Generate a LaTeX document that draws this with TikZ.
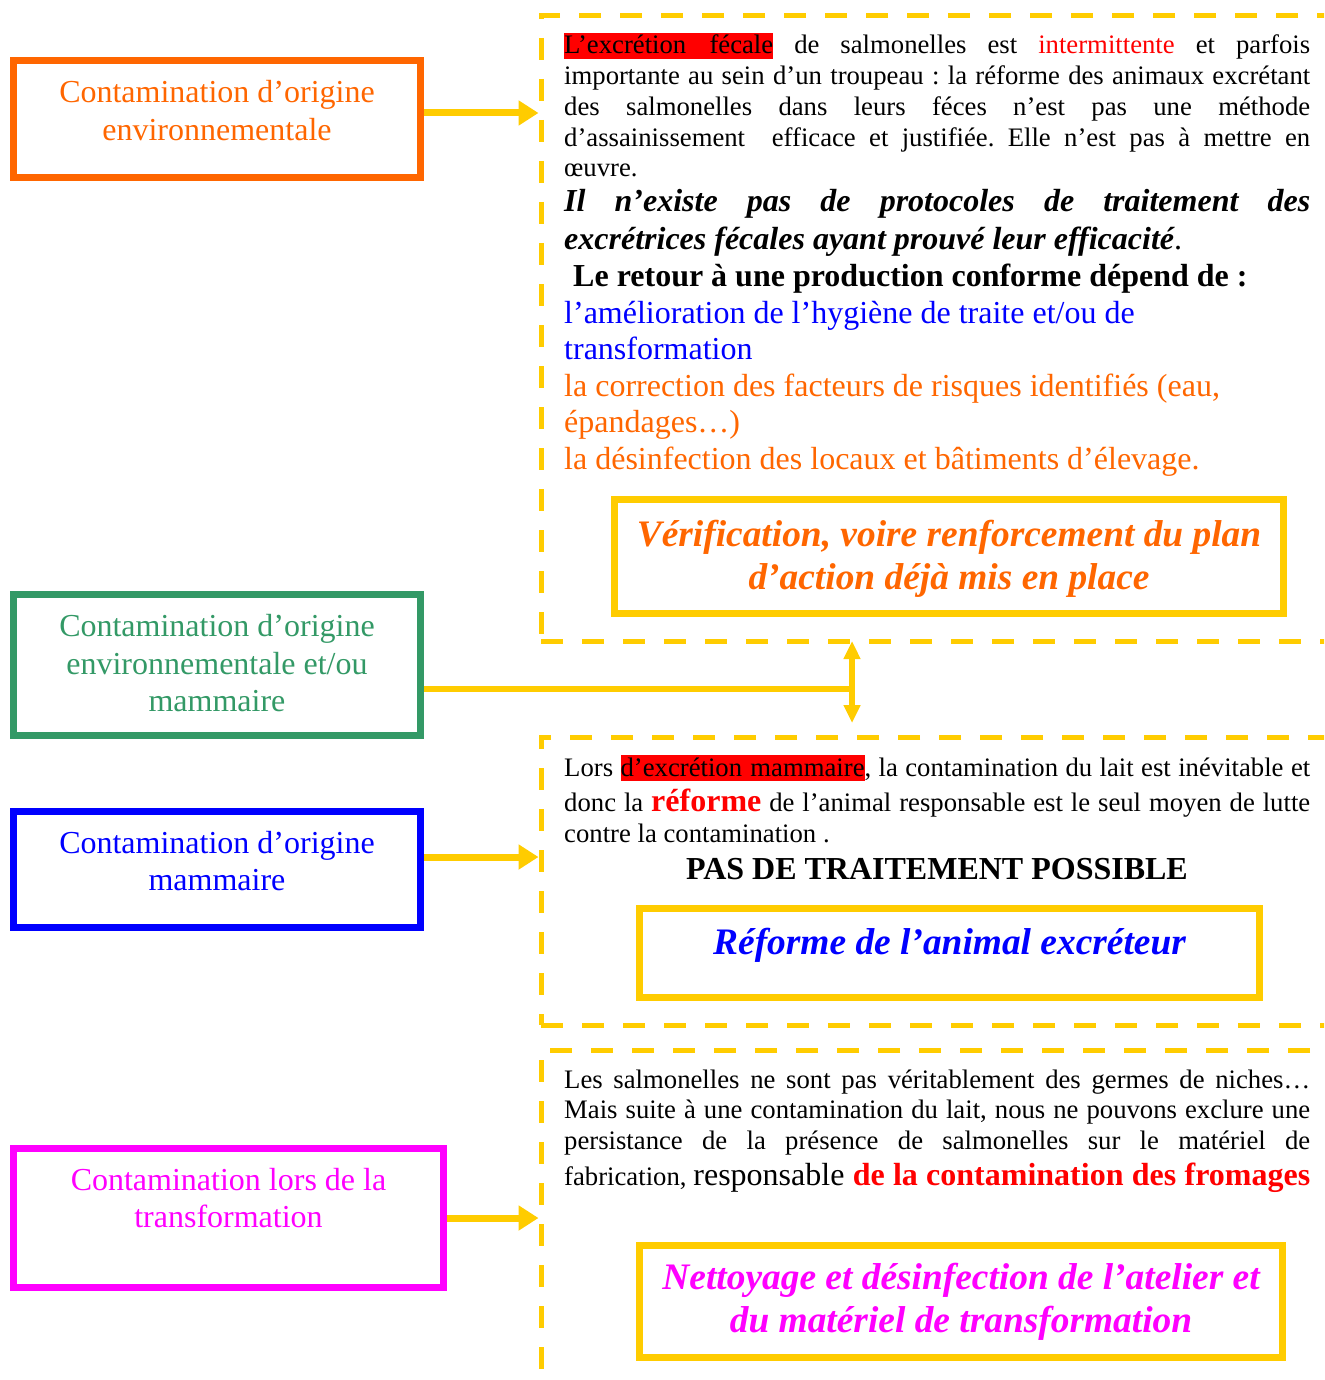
\documentclass[tikz,border=0pt]{standalone}
\usepackage{fontspec}
\setmainfont{Liberation Serif}
\usetikzlibrary{arrows.meta}
\definecolor{jaune}{HTML}{FFCC00}
\definecolor{orangevif}{HTML}{FF6600}
\definecolor{vertmer}{HTML}{339966}
\definecolor{bleu}{HTML}{0000FF}
\definecolor{magenta}{HTML}{FF00FF}
\definecolor{rouge}{HTML}{FF0000}
\frenchspacing
\newcommand{\bodysize}{\fontsize{26.7pt}{30.7pt}\selectfont}
\newcommand{\largesize}{\fontsize{32pt}{36.7pt}\selectfont}
\newcommand{\jl}[1]{\makebox[746pt][s]{#1}}
\newcommand{\surligne}[2]{{\setlength{\fboxsep}{0pt}\colorbox{rouge}{\rule[-5pt]{0pt}{26pt}\makebox[#1][s]{#2}}}}
\begin{document}
\begin{tikzpicture}[x=1pt,y=-1pt,
  origin/.style={draw=#1, line width=7pt, minimum width=407pt, inner sep=0pt},
  origintext/.style={text=#1, align=center, inner sep=0pt, font=\fontsize{32pt}{37.5pt}\selectfont},
  zone/.style={draw=jaune, line width=5pt, dash pattern=on 22pt off 19pt, inner sep=0pt, minimum width=804pt},
  action/.style={draw=jaune, line width=7pt, inner sep=0pt},
  actiontext/.style={text=#1, align=center, inner sep=0pt, font=\fontsize{37.4pt}{43pt}\selectfont\bfseries\itshape},
  body/.style={anchor=base west, inner sep=0pt, font=\bodysize},
  large/.style={anchor=base west, inner sep=0pt, font=\largesize},
  conn/.style={draw=jaune, line width=7pt, -{Triangle[length=20pt,width=24pt]}},
  link/.style={draw=jaune, line width=6pt},
  dbl/.style={draw=jaune, line width=6pt, {Triangle[length=18pt,width=16pt]}-{Triangle[length=18pt,width=16pt]}}
]
\useasboundingbox (0,0) rectangle (1324,1380);
\clip (0,0) rectangle (1324,1380);

% dashed zones on the right
\node[zone, minimum height=625pt] (zoneFec) at (943,328.5) {};
\node[zone, minimum height=288pt] (zoneMam) at (943,881) {};
\node[zone, minimum height=350pt] (zoneTrans) at (943,1225) {};

% origin boxes on the left
\node[origin=orangevif, minimum height=117pt] (boxEnv) at (217,119) {};
\node[origintext=orangevif] (txtEnv) at (217,110.5) {Contamination d’origine\\environnementale};
\node[origin=vertmer, minimum height=141pt] (boxMix) at (217,665) {};
\node[origintext=vertmer] (txtMix) at (217,663.5) {Contamination d’origine\\environnementale et/ou\\mammaire};
\node[origin=bleu, minimum height=116pt] (boxMam) at (217,869.5) {};
\node[origintext=bleu] (txtMam) at (217,861) {Contamination d’origine\\mammaire};
\node[origin=magenta, minimum width=430pt, minimum height=139pt] (boxTrans) at (228.5,1218) {};
\node[origintext=magenta] (txtTrans) at (228.5,1198) {Contamination lors de la\\transformation};

% connectors
\coordinate (aEnv) at ([yshift=6pt]boxEnv.east);
\coordinate (aMix) at ([yshift=-24pt]boxMix.east);
\coordinate (aMam) at ([yshift=12.5pt]boxMam.east);
\coordinate (aTrans) at (boxTrans.east);
\draw[conn] (aEnv) -- (aEnv -| zoneFec.west);
\draw[conn] (aMam) -- (aMam -| zoneMam.west);
\draw[conn] (aTrans) -- (aTrans -| zoneTrans.west);
\coordinate (vTop) at (852,641);
\coordinate (vBot) at (852,723);
\coordinate (vMid) at (852,689);
\draw[link] (aMix) -- (vMid);
\draw[dbl] (vTop) -- (vBot);

% faecal excretion zone
\node[body] (f1) at (564,54) {\jl{\surligne{209pt}{L’excrétion fécale} de salmonelles est \textcolor{rouge}{intermittente} et parfois}};
\node[body] (f2) at (564,85) {\jl{importante au sein d’un troupeau : la réforme des animaux excrétant}};
\node[body] (f3) at (564,116) {\jl{des salmonelles dans leurs féces n’est pas une méthode}};
\node[body] (f4) at (564,147) {\jl{d’assainissement\ \ efficace et justifiée. Elle n’est pas à mettre en}};
\node[body] (f5) at (564,177) {œuvre.};
\node[large] (f6) at (564,212) {\jl{\bfseries\itshape Il n’existe pas de protocoles de traitement des}};
\node[large] (f7) at (564,249) {{\bfseries\itshape excrétrices fécales ayant prouvé leur efficacité}.};
\node[large, font=\largesize\bfseries] (f8) at (573,286) {Le retour à une production conforme dépend de :};
\node[large, text=bleu] (f9) at (564,323) {l’amélioration de l’hygiène de traite et/ou de};
\node[large, text=bleu] (f10) at (564,359) {transformation};
\node[large, text=orangevif] (f11) at (564,396) {la correction des facteurs de risques identifiés (eau,};
\node[large, text=orangevif] (f12) at (564,432) {épandages…)};
\node[large, text=orangevif] (f13) at (564,469) {la désinfection des locaux et bâtiments d’élevage.};
\node[action, minimum width=669pt, minimum height=114pt] (actFec) at (949,556.5) {};
\node[actiontext=orangevif] (txtActFec) at (949,559) {Vérification, voire renforcement du plan\\d’action déjà mis en place};

% mammary excretion zone
\node[body] (m1) at (564,776) {\jl{Lors \surligne{244pt}{d’excrétion mammaire}, la contamination du lait est inévitable et}};
\node[body] (m2) at (564,811) {\jl{donc la {\largesize\bfseries\color{rouge}réforme} de l’animal responsable est le seul moyen de lutte}};
\node[body] (m3) at (564,842) {contre la contamination .};
\node[anchor=base, inner sep=0pt, font=\largesize\bfseries] (m4) at (937,879) {PAS DE TRAITEMENT POSSIBLE};
\node[action, minimum width=620pt, minimum height=89pt] (actMam) at (949.5,953) {};
\node[actiontext=bleu] (txtActMam) at (949.5,945) {Réforme de l’animal excréteur};

% processing zone
\node[body] (t1) at (564,1088) {\jl{Les salmonelles ne sont pas véritablement des germes de niches…}};
\node[body] (t2) at (564,1118) {\jl{Mais suite à une contamination du lait, nous ne pouvons exclure une}};
\node[body] (t3) at (564,1149) {\jl{persistance de la présence de salmonelles sur le matériel de}};
\node[body] (t4) at (564,1185) {\jl{fabrication, {\largesize responsable {\bfseries\color{rouge}de la contamination des fromages}}}};
\node[action, minimum width=643pt, minimum height=112pt] (actTrans) at (961,1301.5) {};
\node[actiontext=magenta] (txtActTrans) at (961,1302) {Nettoyage et désinfection de l’atelier et\\du matériel de transformation};
\end{tikzpicture}
\end{document}
